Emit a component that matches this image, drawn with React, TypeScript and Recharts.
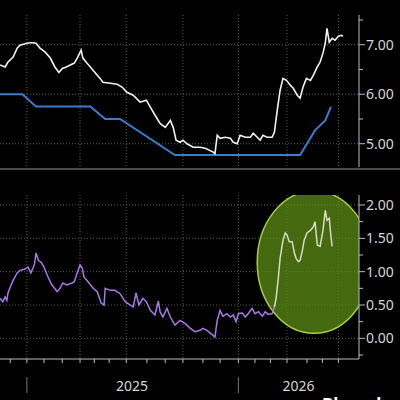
import React from 'react';
import { LineChart, Line, XAxis, YAxis, CartesianGrid, ReferenceArea } from 'recharts';

// x is a day count from the left edge of the window (mid-Nov 2024)
const X_DOMAIN = [0, 628];
const monthDays = [18, 47, 77, 109, 140, 165, 191, 221, 257, 289, 320, 355, 385, 417, 446, 473, 502, 537, 564, 592];
const quarterDays = [47, 140, 221, 320, 417, 502, 592];
const janDays = [47, 417];
const yearLabelDays = [231, 522];
const yearLabels = ['2025', '2026'];

// top panel: 10y yield (white) and policy rate (blue)
const yieldDays = [
  0, 9, 14, 23, 30, 35, 47, 53, 58, 63, 70, 79, 88, 96, 103, 109, 116, 123, 130, 135,
  142, 145, 152, 158, 166, 175, 180, 193, 205, 214, 222, 233, 245, 256, 263, 271, 280, 289, 298, 303,
  308, 315, 320, 327, 338, 350, 359, 373, 376, 380, 385, 394, 403, 408, 415, 420, 429, 438, 443, 450,
  455, 460, 467, 476, 480, 485, 490, 495, 501, 508, 513, 520, 525, 530, 536, 543, 548, 555, 560, 565,
  569, 572, 576, 581, 586, 592, 597, 600,
];
const yield10y = [
  6.59, 6.55, 6.65, 6.75, 6.93, 6.99, 7.03, 7.04, 7.04, 7.03, 6.93, 6.85, 6.73, 6.55, 6.44, 6.52, 6.55, 6.59, 6.63, 6.73,
  6.89, 6.73, 6.63, 6.55, 6.44, 6.32, 6.24, 6.22, 6.2, 6.14, 6.04, 5.98, 5.84, 5.88, 5.74, 5.58, 5.41, 5.33, 5.47, 5.33,
  5.07, 5.03, 5.07, 5.0, 4.93, 4.93, 4.91, 4.83, 4.8, 5.17, 5.11, 5.13, 5.11, 5.03, 5.0, 5.17, 5.13, 5.13, 5.21, 5.13,
  5.07, 5.17, 5.13, 5.13, 5.23, 5.68, 6.08, 6.32, 6.28, 6.18, 6.12, 5.98, 5.92, 6.14, 6.32, 6.28, 6.38, 6.55, 6.65, 6.83,
  7.03, 7.33, 7.05, 7.13, 7.09, 7.17, 7.19, 7.17,
];
const rateDays = [0, 39, 63, 158, 184, 210, 306, 525, 551, 569, 579];
const policyRate = [6.0, 6.0, 5.75, 5.75, 5.5, 5.5, 4.77, 4.77, 5.27, 5.47, 5.75];

// bottom panel: spread, purple part and the highlighted part
const spreadDays = [
  0, 5, 9, 12, 14, 18, 23, 30, 35, 44, 49, 54, 60, 63, 67, 72, 77, 84, 91, 100,
  105, 110, 117, 126, 130, 135, 140, 144, 147, 154, 163, 170, 177, 182, 184, 193, 201, 210, 219, 228,
  233, 238, 243, 250, 256, 263, 271, 277, 280, 285, 292, 298, 306, 315, 324, 333, 341, 350, 355, 362,
  369, 376, 380, 385, 390, 397, 403, 408, 413, 417, 424, 429, 434, 441, 446, 452, 459, 464, 469, 476,
  480,
];
const spread = [
  0.6, 0.55, 0.62, 0.57, 0.68, 0.77, 0.87, 0.98, 1.02, 1.04, 1.07, 0.98, 1.1, 1.28, 1.17, 1.14, 1.07, 0.92, 0.8, 0.7,
  0.75, 0.83, 0.8, 0.83, 0.85, 0.98, 1.1, 1.05, 0.92, 0.85, 0.75, 0.7, 0.53, 0.5, 0.75, 0.72, 0.72, 0.67, 0.55, 0.5,
  0.47, 0.68, 0.5, 0.6, 0.55, 0.42, 0.35, 0.56, 0.4, 0.32, 0.45, 0.32, 0.2, 0.27, 0.22, 0.15, 0.1, 0.12, 0.15, 0.12,
  0.07, 0.02, 0.27, 0.42, 0.33, 0.37, 0.32, 0.35, 0.25, 0.37, 0.38, 0.32, 0.37, 0.45, 0.37, 0.4, 0.33, 0.4, 0.36, 0.37,
  0.47,
];
const recentDays = [
  480, 483, 487, 490, 495, 499, 502, 506, 511, 515, 518, 522, 525, 529, 532, 537, 543, 548, 551, 555,
  560, 565, 569, 572, 576, 579, 581,
];
const recentSpread = [
  0.47, 0.6, 0.92, 1.2, 1.47, 1.58, 1.55, 1.45, 1.45, 1.28, 1.2, 1.15, 1.17, 1.32, 1.47, 1.58, 1.62, 1.67, 1.75, 1.4,
  1.38, 1.62, 1.92, 1.77, 1.8, 1.52, 1.38,
];

// highlight around the recent jump
const highlightDays = [450, 649];
const highlightRange = [0.075, 2.21];
const SPREAD_DOMAIN = [-0.31, 2.15];

const toPoints = (days: number[], vals: number[]) => days.map((d, i) => ({ day: d, v: vals[i] }));

const AXIS = '#bdbdbd';
const TEXT = '#d6d6d6';
const GRID = '#5c5c5c';
const FONT = '"Noto Sans", "Open Sans", sans-serif';

const makeYTick = (step: number) => (props: any) => {
  const { x, y, payload } = props;
  const v = payload.value;
  const major = Math.abs(v / step - Math.round(v / step)) < 1e-6;
  return (
    <g>
      <line x1={x} x2={x + (major ? 6 : 4)} y1={y} y2={y} stroke={AXIS} />
      {major && (
        <text x={x + 7} y={y} dy="0.36em" fill={TEXT} fontSize={14} fontFamily={FONT}>
          {v.toFixed(2)}
        </text>
      )}
    </g>
  );
};

const XTick = (props: any) => {
  const { x, y, payload } = props;
  const v = payload.value;
  const yi = yearLabelDays.indexOf(v);
  if (yi >= 0) {
    return (
      <text x={x} y={y + 32} textAnchor="middle" fill={TEXT} fontSize={14} fontFamily={FONT}>
        {yearLabels[yi]}
      </text>
    );
  }
  return (
    <g>
      <line x1={x} x2={x} y1={y} y2={y + 4} stroke={AXIS} />
      {janDays.includes(v) && <line x1={x} x2={x} y1={y + 18} y2={y + 34} stroke="#777" />}
    </g>
  );
};

// ellipse inscribed in the reference area, clipped to the plot edges
const Ellipse = (p: any) => {
  const pxPerDay = p.width / (highlightDays[1] - highlightDays[0]);
  const pxPerUnit = p.height / (highlightRange[1] - highlightRange[0]);
  const right = p.x + (X_DOMAIN[1] - highlightDays[0]) * pxPerDay;
  const top = p.y + (highlightRange[1] - SPREAD_DOMAIN[1]) * pxPerUnit;
  return (
    <g>
      <defs>
        <clipPath id="hl-clip">
          <rect x={p.x - 5} y={top} width={right - p.x + 5} height={p.y + p.height - top + 5} />
        </clipPath>
      </defs>
      <ellipse
        clipPath="url(#hl-clip)"
        cx={p.x + p.width / 2}
        cy={p.y + p.height / 2}
        rx={Math.abs(p.width) / 2}
        ry={Math.abs(p.height) / 2}
        fill="#5c8c14"
        fillOpacity={0.75}
        stroke="#a9cf3a"
        strokeWidth={1.5}
      />
    </g>
  );
};

export default function App() {
  const xTicks = [...monthDays, ...yearLabelDays].sort((a, b) => a - b);
  return (
    <div
      style={{
        position: 'absolute',
        left: 0,
        top: 0,
        width: 400,
        height: 400,
        background: '#000',
        overflow: 'hidden',
        fontFamily: FONT,
      }}
    >
      <LineChart width={400} height={168} margin={{ top: 15, right: 0, bottom: 1, left: 0 }}>
        <CartesianGrid
          stroke={GRID}
          strokeDasharray="1 2"
          horizontalValues={[5, 6, 7]}
          verticalValues={quarterDays}
        />
        <XAxis dataKey="day" type="number" domain={X_DOMAIN} allowDataOverflow hide />
        <YAxis
          orientation="right"
          type="number"
          width={41}
          domain={[4.53, 7.6]}
          allowDataOverflow
          ticks={[5, 5.5, 6, 6.5, 7, 7.5]}
          interval={0}
          tickSize={0}
          tickMargin={0}
          tickLine={false}
          axisLine={{ stroke: AXIS }}
          tick={makeYTick(1)}
        />
        <Line data={toPoints(rateDays, policyRate)} dataKey="v" type="linear" stroke="#3b7dcc" strokeWidth={2} dot={false} isAnimationActive={false} />
        <Line data={toPoints(yieldDays, yield10y)} dataKey="v" type="linear" stroke="#f2f2f2" strokeWidth={1.6} dot={false} isAnimationActive={false} />
      </LineChart>
      <div style={{ height: 2, background: '#4a4a4a' }} />
      <LineChart width={400} height={230} margin={{ top: 25, right: 0, bottom: 0, left: 0 }}>
        <CartesianGrid
          stroke={GRID}
          strokeDasharray="1 2"
          horizontalValues={[0, 0.5, 1, 1.5, 2]}
          verticalValues={quarterDays}
        />
        <XAxis
          dataKey="day"
          type="number"
          domain={X_DOMAIN}
          allowDataOverflow
          height={41}
          ticks={xTicks}
          interval={0}
          tickSize={0}
          tickMargin={0}
          tickLine={false}
          axisLine={{ stroke: AXIS }}
          tick={<XTick />}
        />
        <YAxis
          orientation="right"
          type="number"
          width={41}
          domain={SPREAD_DOMAIN}
          allowDataOverflow
          ticks={[-0.25, 0, 0.25, 0.5, 0.75, 1, 1.25, 1.5, 1.75, 2]}
          interval={0}
          tickSize={0}
          tickMargin={0}
          tickLine={false}
          axisLine={{ stroke: AXIS }}
          tick={makeYTick(0.5)}
        />
        <ReferenceArea
          x1={highlightDays[0]}
          x2={highlightDays[1]}
          y1={highlightRange[0]}
          y2={highlightRange[1]}
          ifOverflow="visible"
          shape={Ellipse}
        />
        <Line data={toPoints(spreadDays, spread)} dataKey="v" type="linear" stroke="#a878e4" strokeWidth={1.5} dot={false} isAnimationActive={false} />
        <Line data={toPoints(recentDays, recentSpread)} dataKey="v" type="linear" stroke="#d8dbc6" strokeWidth={1.5} dot={false} isAnimationActive={false} />
      </LineChart>
      <div
        style={{
          position: 'absolute',
          left: 322,
          top: 396,
          color: '#fff',
          fontSize: 17,
          fontWeight: 700,
          lineHeight: 1,
          fontFamily: FONT,
        }}
      >
        Bloomberg
      </div>
    </div>
  );
}
